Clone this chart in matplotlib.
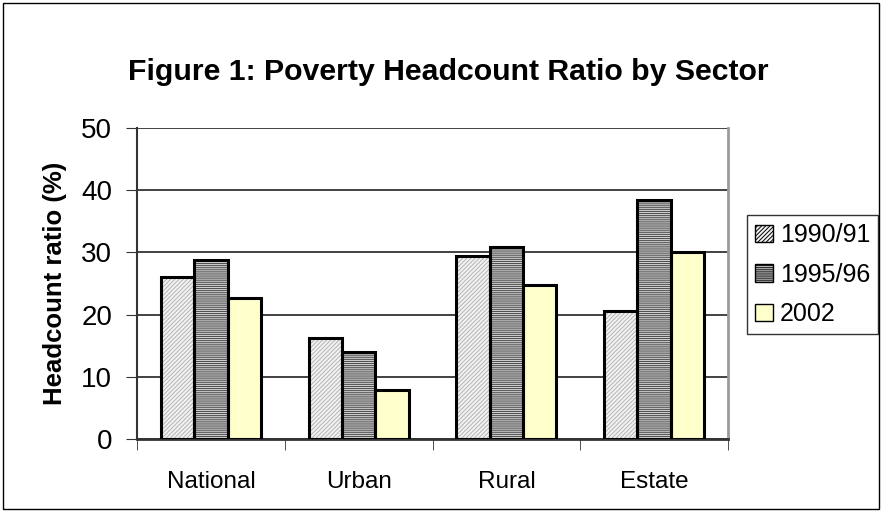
import numpy as np
import matplotlib.pyplot as plt
from matplotlib.patches import Rectangle

plt.rcParams['font.family'] = ['Liberation Sans', 'DejaVu Sans']
plt.rcParams['hatch.linewidth'] = 0.7

sectors = ['National', 'Urban', 'Rural', 'Estate']
years = ['1990/91', '1995/96', '2002']
v1990 = [26.1, 16.3, 29.4, 20.5]
v1995 = [28.8, 14.0, 30.9, 38.4]
v2002 = [22.7, 7.9, 24.7, 30.0]

fig = plt.figure(figsize=(8.83, 5.12), dpi=100)
fig.patches.append(Rectangle((0.003, 0.005), 0.993, 0.99, transform=fig.transFigure,
                             fill=False, edgecolor='black', linewidth=1))
ax = fig.add_axes([0.1552, 0.1426, 0.6693, 0.6074])

x = np.arange(len(sectors))
w = 0.2256
styles = [
    dict(facecolor='#f2f2f2', hatch='////////', edgecolor='#b4b4b4'),
    dict(facecolor='#cfcfcf', hatch='--------', edgecolor='#4a4a4a'),
    dict(facecolor='#ffffcc', hatch=None, edgecolor='black'),
]
for i, (vals, lab) in enumerate(zip([v1990, v1995, v2002], years)):
    ax.bar(x + (i - 1) * w, vals, w, label=lab, linewidth=0, zorder=2, **styles[i])
    ax.bar(x + (i - 1) * w, vals, w, fill=False, edgecolor='black', linewidth=2.2, zorder=3)

ax.set_xlim(-0.5, 3.5)
ax.set_ylim(0, 50)
ax.set_yticks(range(0, 51, 10))
ax.yaxis.grid(True, color='#222222', linewidth=1.2)
ax.set_axisbelow(True)
ax.set_xticks(x)
ax.set_xticklabels(sectors, fontsize=17.5)
ax.tick_params(axis='y', labelsize=20, direction='out', length=8, pad=10, color='#333333')
ax.tick_params(axis='x', length=0, pad=23)
ax.set_xticks(np.arange(-0.5, 4, 1), minor=True)
ax.tick_params(axis='x', which='minor', length=8, direction='out', color='#333333')
ax.spines['top'].set_visible(False)
ax.spines['right'].set_color('#9a9a9a')
ax.spines['right'].set_linewidth(2)
ax.spines['left'].set_color('#333333')
ax.spines['left'].set_linewidth(1.5)
ax.spines['bottom'].set_color('#333333')
ax.spines['bottom'].set_linewidth(2)
ax.set_ylabel('Headcount ratio (%)', fontsize=18.5, fontweight='bold', labelpad=10)

fig.text(0.508, 0.859, 'Figure 1: Poverty Headcount Ratio by Sector', ha='center', va='center',
         fontsize=21.8, fontweight='bold')

leg = fig.legend(loc='upper left', bbox_to_anchor=(0.846, 0.58), fontsize=18, frameon=True,
                 fancybox=False, edgecolor='black', handlelength=0.7, handleheight=0.7,
                 handletextpad=0.3, borderpad=0.32, labelspacing=0.62, borderaxespad=0)
leg.get_frame().set_linewidth(1)
for h in leg.legend_handles:
    h.set_linewidth(1)
    h.set_edgecolor('black')

plt.savefig('out.png', dpi=100)
